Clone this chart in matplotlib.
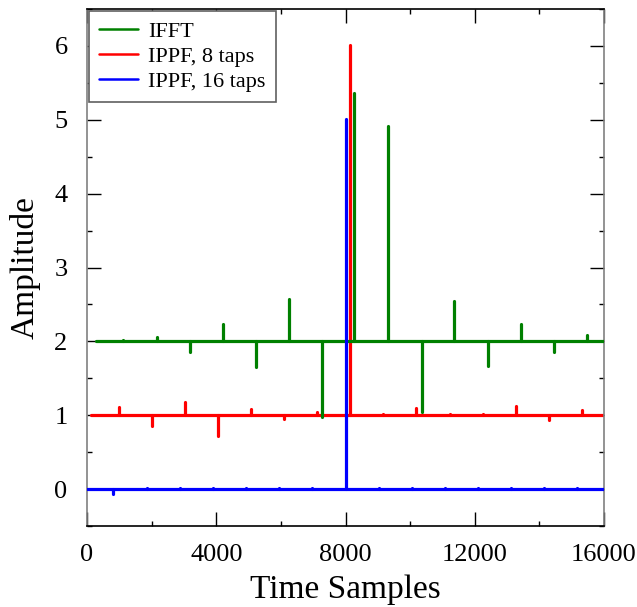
import matplotlib.pyplot as plt
from matplotlib.ticker import MultipleLocator

# spike positions (samples) and amplitudes
ifft_start = 280
ifft_base = 2.0
ifft_pos = [1124, 2156, 3187, 4200, 5230, 6253, 7284, 8264, 9316,
            10359, 11368, 12402, 13423, 14444, 15466]
ifft_amp = [2.02, 2.06, 1.86, 2.24, 1.65, 2.57, 0.98, 5.36, 4.91,
            1.04, 2.54, 1.66, 2.24, 1.86, 2.08]

ippf8_start = 124
ippf8_base = 1.0
ippf8_pos = [980, 2000, 3032, 4054, 5076, 6097, 7126, 8140, 9165,
             10195, 11226, 12247, 13268, 14290, 15320]
ippf8_amp = [1.11, 0.86, 1.18, 0.72, 1.08, 0.95, 1.04, 6.01, 1.02,
             1.1, 1.02, 1.02, 1.12, 0.94, 1.07]

ippf16_start = 0
ippf16_base = 0.0
ippf16_pos = [814, 1846, 2878, 3900, 4921, 5952, 6973, 8006, 9027,
              10049, 11070, 12092, 13123, 14144, 15166]
ippf16_amp = [-0.07, 0.02, 0.02, 0.02, 0.02, 0.02, 0.02, 5.01, 0.02,
              0.02, 0.02, 0.02, 0.02, 0.02, 0.02]

x_end = 16000

plt.rcParams['font.family'] = ['Liberation Serif', 'DejaVu Serif']

fig = plt.figure(figsize=(6.37, 6.07), dpi=100)
ax = fig.add_axes([0.1366, 0.1334, 0.8116, 0.8518])

series = [
    ("IFFT", "green", ifft_start, ifft_base, ifft_pos, ifft_amp, 3),
    ("IPPF, 8 taps", "red", ippf8_start, ippf8_base, ippf8_pos, ippf8_amp, 2),
    ("IPPF, 16 taps", "blue", ippf16_start, ippf16_base, ippf16_pos, ippf16_amp, 4),
]
lw = 2.3
for label, col, start, base, pos, amp, z in series:
    ax.plot([start, x_end], [base, base], color=col, lw=lw, label=label,
            zorder=z, solid_capstyle='round')
    ax.vlines(pos, base, amp, color=col, lw=lw, zorder=z, capstyle='round')

ax.set_xlim(0, 16000)
ax.set_ylim(-0.5, 6.5)
ax.xaxis.set_major_locator(MultipleLocator(4000))
ax.xaxis.set_minor_locator(MultipleLocator(2000))
ax.yaxis.set_major_locator(MultipleLocator(1))
ax.yaxis.set_minor_locator(MultipleLocator(0.5))
ax.tick_params(which='both', direction='in', top=True, right=True,
               labelsize=19, colors='black')
ax.tick_params(which='major', length=10, width=1)
ax.tick_params(which='minor', length=3.5, width=1)
ax.tick_params(axis='x', pad=13)
ax.tick_params(axis='y', pad=14)

ax.spines['left'].set_color('#808080')
ax.spines['right'].set_color('#808080')
for s in ax.spines.values():
    s.set_linewidth(1.2)

ax.set_xlabel("Time Samples", fontsize=24, labelpad=6)
ax.set_ylabel("Amplitude", fontsize=24, labelpad=10)

leg = ax.legend(loc='upper left', fontsize=16, fancybox=False,
                framealpha=1, edgecolor='#606060', borderaxespad=0.1,
                handlelength=1.75, handletextpad=0.45, borderpad=0.45,
                labelspacing=0.2)
leg.get_frame().set_linewidth(1.2)
for h in leg.get_lines():
    h.set_linewidth(1.8)

fig.savefig("out.png", dpi=100)
